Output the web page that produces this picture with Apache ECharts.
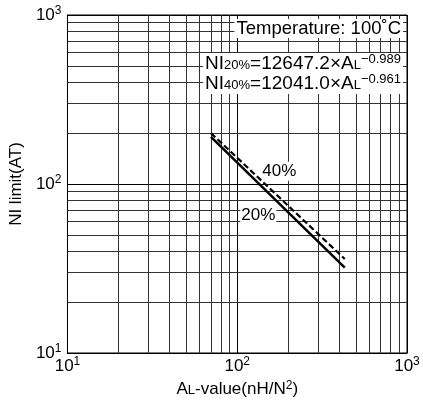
<!DOCTYPE html>
<html>
<head>
<meta charset="utf-8">
<script src="https://cdn.jsdelivr.net/npm/echarts@6/dist/echarts.min.js"></script>
<style>
  html, body { margin: 0; padding: 0; background: #fff; }
  #chart { width: 423px; height: 403px; }
</style>
</head>
<body>
<div id="chart"></div>
<script>
// values (AL in nH/N², NI in AT)
const line20 = [[70, 190], [430, 32]];
const line40 = [[70, 200], [430, 36]];
const xGrid = [20, 30, 40, 50, 60, 70, 80, 90, 200, 300, 400, 500, 600, 700, 800, 900];
const yGrid = [20, 30, 40, 50, 60, 70, 80, 90, 200, 300, 400, 500, 600, 700, 800, 900];
const labelPos = { p40: [177, 119], p20: [133, 65] };

document.addEventListener('DOMContentLoaded', () => {
    const chartDom = document.getElementById('chart');
    const myChart = echarts.init(chartDom);
    const font = 'Liberation Sans, Arial, sans-serif';
    const powLabel = v => '10{sup|' + Math.round(Math.log10(v)) + '}';
    const supRich = {
        sup: { fontSize: 12, verticalAlign: 'top', padding: [0, 0, 8, 0], fontFamily: font, color: '#000' }
    };
    const eqRich = {
        sub: { fontSize: 13, fontFamily: font, fill: '#000', verticalAlign: 'bottom', padding: [0, 0, 2, 0] },
        sup: { fontSize: 13, fontFamily: font, fill: '#000', verticalAlign: 'top', padding: [0, 0, 8, 0] }
    };
    const gridLines = xGrid.map(v => ({ xAxis: v })).concat(yGrid.map(v => ({ yAxis: v })));

    const option = {
        animation: false,
        textStyle: { fontFamily: font },
        grid: { left: 67, right: 16, top: 15, bottom: 48, show: true, borderColor: '#000', borderWidth: 1 },
        xAxis: {
            type: 'log', logBase: 10, min: 10, max: 1000,
            name: 'A{s|L}-value(nH/N{sup|2})',
            nameLocation: 'middle', nameGap: 27,
            nameTextStyle: {
                fontSize: 17, color: '#000', fontFamily: font,
                rich: {
                    s: { fontSize: 13, fontFamily: font, color: '#000', verticalAlign: 'bottom', padding: [0, 0, 2, 0] },
                    sup: { fontSize: 12, verticalAlign: 'top', padding: [0, 0, 7, 0], fontFamily: font, color: '#000' }
                }
            },
            axisLine: { show: true, lineStyle: { color: '#000' } },
            axisTick: { show: false },
            axisLabel: { formatter: powLabel, fontSize: 17, color: '#000', margin: 3, rich: supRich },
            splitLine: { show: true, lineStyle: { color: '#000', width: 1 } }
        },
        yAxis: {
            type: 'log', logBase: 10, min: 10, max: 1000,
            name: 'NI limit(AT)',
            nameLocation: 'middle', nameGap: 40,
            nameTextStyle: { fontSize: 17, color: '#000', fontFamily: font },
            axisLine: { show: true, lineStyle: { color: '#000' } },
            axisTick: { show: false },
            axisLabel: { formatter: powLabel, fontSize: 17, color: '#000', margin: 6, rich: supRich },
            splitLine: { show: true, lineStyle: { color: '#000', width: 1 } }
        },
        series: [
            {
                name: '20%', type: 'line', data: line20, symbol: 'none', z: 5,
                lineStyle: { color: '#000', width: 2.5, type: 'solid' },
                markLine: {
                    silent: true, symbol: 'none', z: 1,
                    label: { show: false },
                    lineStyle: { color: '#333', width: 1, type: 'solid' },
                    data: gridLines
                },
                markPoint: {
                    symbol: 'rect', symbolSize: 1, itemStyle: { color: 'transparent' },
                    label: {
                        show: true, position: 'inside', color: '#000', fontSize: 17,
                        backgroundColor: '#fff', padding: [1, 1], fontFamily: font
                    },
                    data: [
                        { coord: labelPos.p40, value: '40%' },
                        { coord: labelPos.p20, value: '20%' }
                    ]
                }
            },
            {
                name: '40%', type: 'line', data: line40, symbol: 'none', z: 5,
                lineStyle: { color: '#000', width: 2.2, type: [6, 3] }
            }
        ],
        graphic: [
            {
                type: 'text', right: 20, top: 19, z: 100,
                style: {
                    text: 'Temperature: 100˚C', fontSize: 18.5, fill: '#000', fontFamily: font,
                    backgroundColor: '#fff', padding: [0, 2]
                }
            },
            {
                type: 'text', right: 20, top: 53, z: 100,
                style: {
                    text: 'NI{sub|20%}=12647.2×A{sub|L}{sup|−0.989}',
                    fontSize: 19, fill: '#000', fontFamily: font,
                    backgroundColor: '#fff', padding: [0, 2], rich: eqRich
                }
            },
            {
                type: 'text', right: 20, top: 73, z: 100,
                style: {
                    text: 'NI{sub|40%}=12041.0×A{sub|L}{sup|−0.961}',
                    fontSize: 19, fill: '#000', fontFamily: font,
                    backgroundColor: '#fff', padding: [0, 2], rich: eqRich
                }
            }
        ]
    };
    myChart.setOption(option);
    window.addEventListener('resize', () => myChart.resize());
});
</script>
</body>
</html>
